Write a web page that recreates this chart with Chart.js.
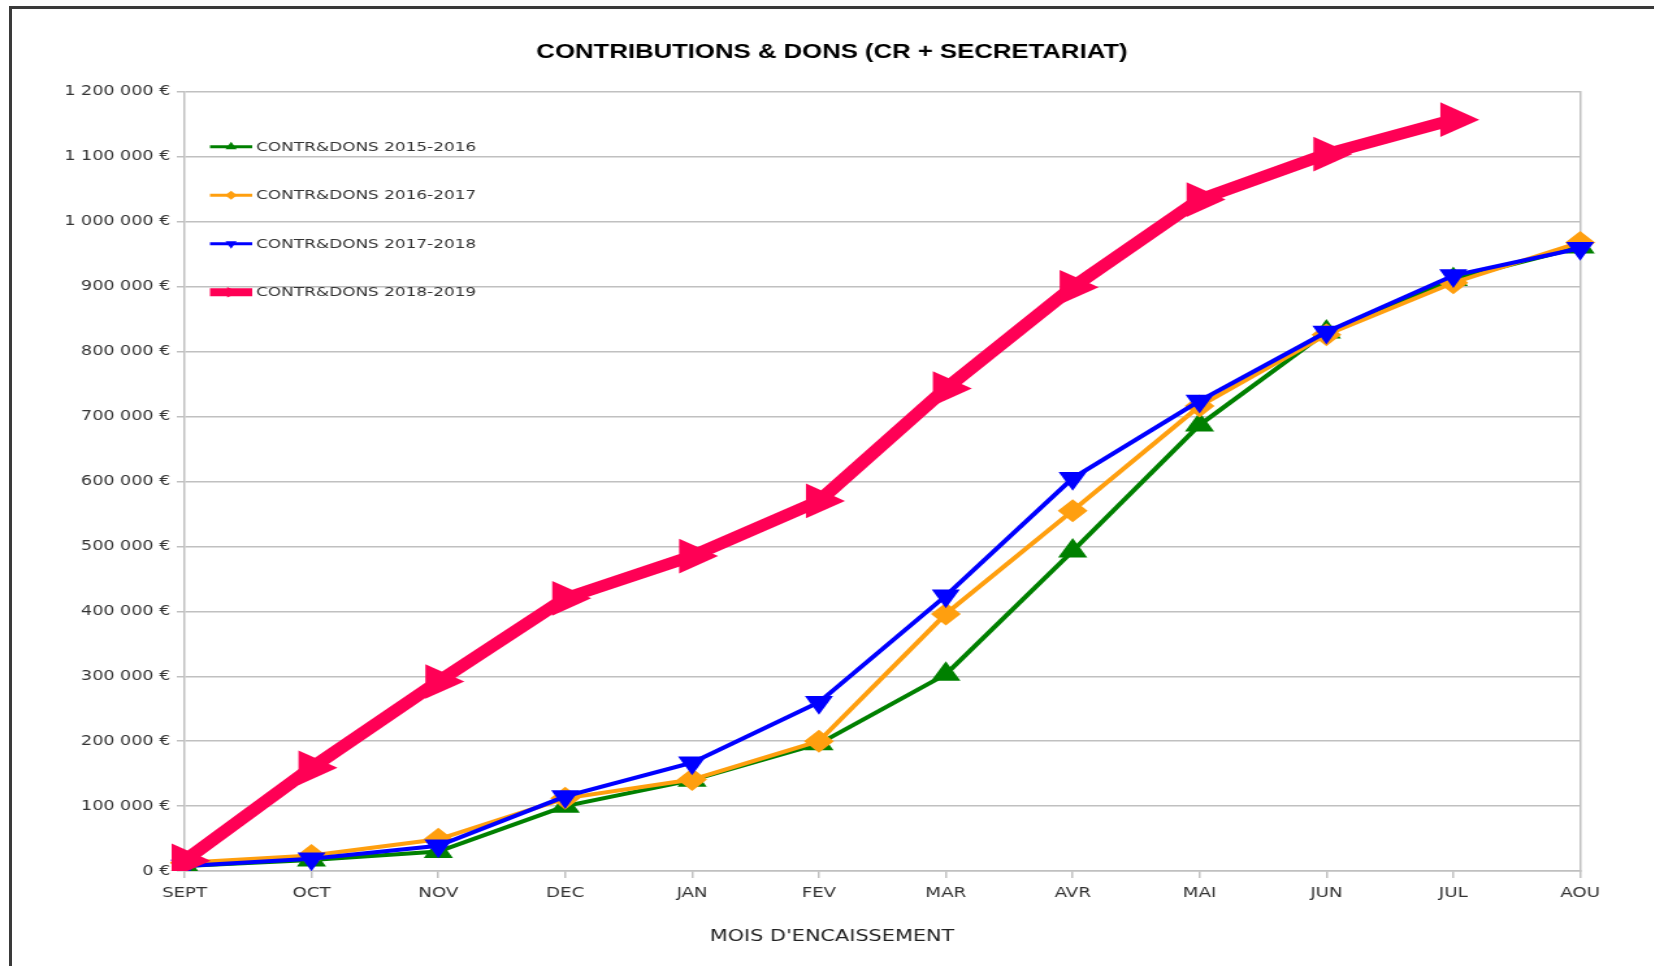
<!DOCTYPE html>
<html>
<head>
<meta charset="utf-8">
<script src="https://cdn.jsdelivr.net/npm/chart.js@4.4.0/dist/chart.umd.min.js"></script>
<style>
  html, body { margin: 0; padding: 0; background: #fff; }
  body { width: 1654px; height: 966px; overflow: hidden; position: relative; }
  #frame { position: absolute; left: 9px; top: 6px; width: 1700px; height: 1000px;
           border-left: 3px solid #3a3a3a; border-top: 3px solid #3a3a3a; }
  /* the original picture is stretched sideways, so the chart is too */
  #wrap { position: absolute; left: 0; top: 0; width: 1272px; height: 966px;
          transform: scaleX(1.3); transform-origin: 0 0; }
</style>
</head>
<body>
<div id="frame"></div>
<div id="wrap"><canvas id="myChart"></canvas></div>
<script>
// months of the fiscal year
const months = ['SEPT', 'OCT', 'NOV', 'DEC', 'JAN', 'FEV', 'MAR', 'AVR', 'MAI', 'JUN', 'JUL', 'AOU'];

// cumulated amounts (EUR)
const dons2015 = [8000, 17000, 30000, 100000, 140000, 196000, 303000, 493000, 687000, 830000, 911000, 961000];
const dons2016 = [13000, 24000, 49000, 112000, 141000, 200000, 396000, 555000, 716000, 826000, 906000, 968000];
const dons2017 = [8000, 19000, 39000, 115000, 167000, 260000, 424000, 605000, 724000, 830000, 917000, 959000];
const dons2018 = [16000, 159000, 292000, 420000, 485000, 570000, 743000, 899000, 1034000, 1104000, 1157000, null];

const seriesNames = ['CONTR&DONS 2015-2016', 'CONTR&DONS 2016-2017', 'CONTR&DONS 2017-2018', 'CONTR&DONS 2018-2019'];

const yMax = 1200000;
const yStep = 100000;

const gridColor = 'rgb(192, 192, 192)';
const textColor = '#333333';

function euro(v) {
  return String(v).replace(/\B(?=(\d{3})+(?!\d))/g, ' ') + ' €';
}

// legend drawn inside the plot, top-left
const insideLegend = {
  id: 'insideLegend',
  afterDatasetsDraw(chart) {
    const ctx = chart.ctx;
    const area = chart.chartArea;
    ctx.save();
    chart.data.datasets.forEach((ds, i) => {
      const y = area.top + 55 + i * 48.5;
      const x0 = area.left + 19.5;
      const x1 = area.left + 52;
      ctx.strokeStyle = ds.borderColor;
      ctx.fillStyle = ds.borderColor;
      ctx.lineWidth = ds.legendWidth;
      ctx.beginPath();
      ctx.moveTo(x0, y);
      ctx.lineTo(x1, y);
      ctx.stroke();
      Chart.helpers.drawPoint(ctx, {
        pointStyle: ds.pointStyle,
        rotation: ds.pointRotation,
        radius: ds.legendRadius,
        borderWidth: 0
      }, (x0 + x1) / 2, y);
      ctx.fillStyle = textColor;
      ctx.font = '13px "DejaVu Sans"';
      ctx.textBaseline = 'middle';
      ctx.textAlign = 'left';
      ctx.fillText(seriesNames[i], x1 + 3, y + 0.5);
    });
    ctx.restore();
  }
};

const ctx = document.getElementById('myChart').getContext('2d');
Chart.defaults.font.family = '"DejaVu Sans", sans-serif';
Chart.defaults.color = textColor;

new Chart(ctx, {
  type: 'line',
  data: {
    labels: months,
    datasets: [
      {
        label: seriesNames[0],
        data: dons2015,
        borderColor: '#008000',
        backgroundColor: '#008000',
        borderWidth: 4,
        pointStyle: 'triangle',
        pointRotation: 0,
        pointRadius: 13,
        pointBorderWidth: 0,
        legendWidth: 3,
        legendRadius: 5,
        order: 3
      },
      {
        label: seriesNames[1],
        data: dons2016,
        borderColor: '#ff9f0f',
        backgroundColor: '#ff9f0f',
        borderWidth: 4,
        pointStyle: 'rectRot',
        pointRotation: 0,
        pointRadius: 11.5,
        pointBorderWidth: 0,
        legendWidth: 3,
        legendRadius: 4.5,
        order: 2
      },
      {
        label: seriesNames[2],
        data: dons2017,
        borderColor: '#0000ff',
        backgroundColor: '#0000ff',
        borderWidth: 4,
        pointStyle: 'triangle',
        pointRotation: 180,
        pointRadius: 12.5,
        pointBorderWidth: 0,
        legendWidth: 3,
        legendRadius: 5,
        order: 1
      },
      {
        label: seriesNames[3],
        data: dons2018,
        borderColor: '#ff0055',
        backgroundColor: '#ff0055',
        borderWidth: 11.5,
        pointStyle: 'triangle',
        pointRotation: 90,
        pointRadius: 20,
        pointBorderWidth: 0,
        legendWidth: 8,
        legendRadius: 6,
        order: 0
      }
    ]
  },
  options: {
    responsive: true,
    maintainAspectRatio: false,
    animation: false,
    layout: { padding: { left: 8, right: 0, top: 0, bottom: 0 } },
    elements: { line: { tension: 0 } },
    plugins: {
      legend: { display: false },
      tooltip: { enabled: false },
      title: {
        display: true,
        text: 'CONTRIBUTIONS & DONS (CR + SECRETARIAT)',
        color: '#000',
        font: { family: '"Liberation Sans", Arial, sans-serif', size: 19.8, weight: 'bold' },
        padding: { top: 40.5, bottom: 27.5 }
      },
      subtitle: {
        display: true,
        position: 'bottom',
        text: "MOIS D'ENCAISSEMENT",
        color: '#222',
        font: { size: 16 },
        padding: { top: 19.7, bottom: 19.2 }
      }
    },
    scales: {
      x: {
        type: 'category',
        offset: false,
        grid: { display: true, drawOnChartArea: false, drawTicks: true, tickLength: 7, color: gridColor, lineWidth: 1.5 },
        border: { display: true, color: gridColor, width: 1.5 },
        ticks: { font: { size: 14 }, color: textColor, padding: 6.5, maxRotation: 0, autoSkip: false }
      },
      y: {
        min: 0,
        max: yMax,
        grid: { color: gridColor, lineWidth: 1.5, tickLength: 6 },
        border: { display: true, color: gridColor, width: 1.5 },
        ticks: { stepSize: yStep, font: { size: 13.5 }, color: textColor, padding: 5, callback: v => euro(v) },
        afterFit(scale) { scale.width = 134; }
      },
      y2: {
        axis: 'y',
        position: 'right',
        display: true,
        grid: { display: false },
        ticks: { display: false },
        border: { display: true, color: gridColor, width: 1.5 },
        afterFit(scale) { scale.width = 56.5; }
      }
    }
  },
  plugins: [insideLegend]
});
</script>
</body>
</html>
